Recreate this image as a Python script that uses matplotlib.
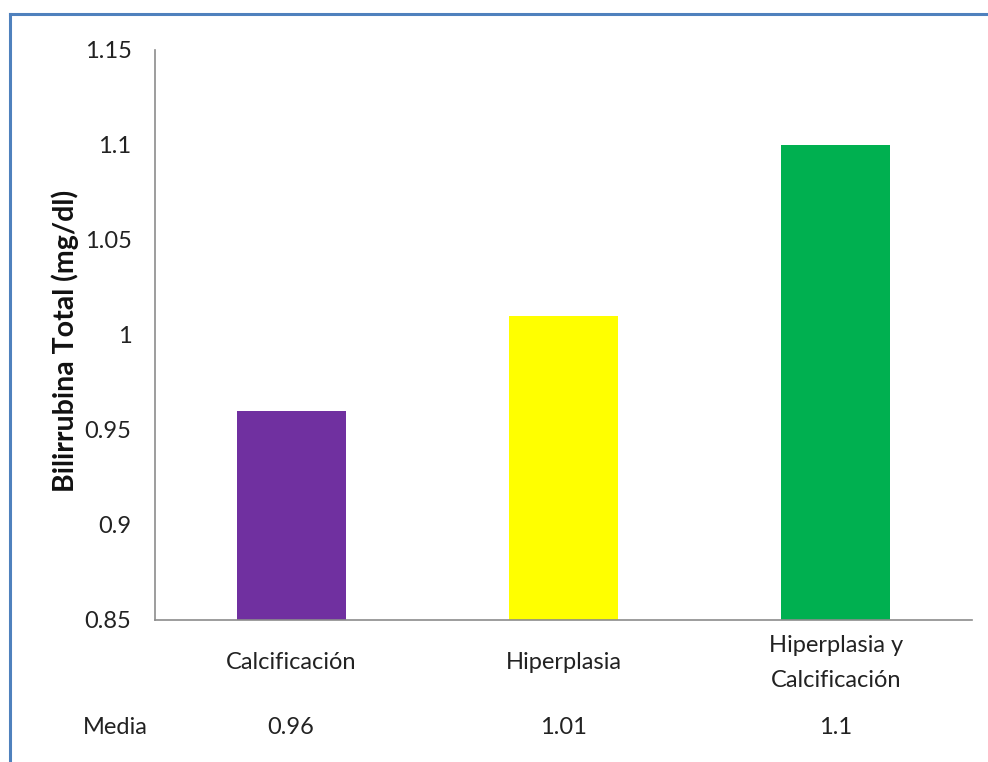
import matplotlib.pyplot as plt
from matplotlib.lines import Line2D
import numpy as np

plt.rcParams['font.family'] = ['Lato', 'DejaVu Sans']

categories = ["Calcificación", "Hiperplasia", "Hiperplasia y\nCalcificación"]
medias = [0.96, 1.01, 1.1]
media_labels = ["0.96", "1.01", "1.1"]
colors = ["#7030A0", "#FFFF00", "#00B050"]
yticks = [0.85, 0.9, 0.95, 1, 1.05, 1.1, 1.15]
ytick_labels = ["0.85", "0.9", "0.95", "1", "1.05", "1.1", "1.15"]

txt = "#222222"
fs = 17

fig = plt.figure(figsize=(9.88, 7.62), dpi=100)
ax = fig.add_axes([0.1569, 0.1864, 0.8269, 0.748])

x = np.arange(len(categories))
ax.bar(x, medias, width=0.4, color=colors, zorder=2)

ax.set_xlim(-0.5, len(categories) - 0.5)
ax.set_ylim(0.85, 1.15)
ax.set_yticks(yticks)
ax.set_yticklabels(ytick_labels, fontsize=fs, color=txt)
ax.set_xticks([])
ax.tick_params(axis="both", length=0)
ax.tick_params(axis="y", pad=17)

for side in ["top", "right"]:
    ax.spines[side].set_visible(False)
for side in ["left", "bottom"]:
    ax.spines[side].set_color("#8c8c8c")
    ax.spines[side].set_linewidth(1.2)

ax.text(-0.110, 0.49, "Bilirrubina Total (mg/dl)", transform=ax.transAxes,
        rotation=90, ha="center", va="center", fontsize=20.5,
        fontweight="bold", color="#111111")

# category labels and the "Media" row below the axis
trans = ax.get_xaxis_transform()
for xi, cat in zip(x, categories):
    ax.text(xi, -0.0754, cat, transform=trans, ha="center", va="center",
            fontsize=fs, color=txt, linespacing=1.85)

row_y = -0.189
ax.text(-0.647, row_y, "Media", transform=trans, ha="center", va="center",
        fontsize=fs, color=txt)
for xi, lab in zip(x, media_labels):
    ax.text(xi, row_y, lab, transform=trans, ha="center", va="center",
            fontsize=fs, color=txt)

# blue frame around the chart area (top and left edges)
frame_color = "#4F81BD"
fig.add_artist(Line2D([0.0101, 1.0], [0.9816, 0.9816], transform=fig.transFigure,
                      color=frame_color, linewidth=2.2))
fig.add_artist(Line2D([0.0101, 0.0101], [0.0, 0.9816], transform=fig.transFigure,
                      color=frame_color, linewidth=2.2))

fig.savefig("out.png", dpi=100)
